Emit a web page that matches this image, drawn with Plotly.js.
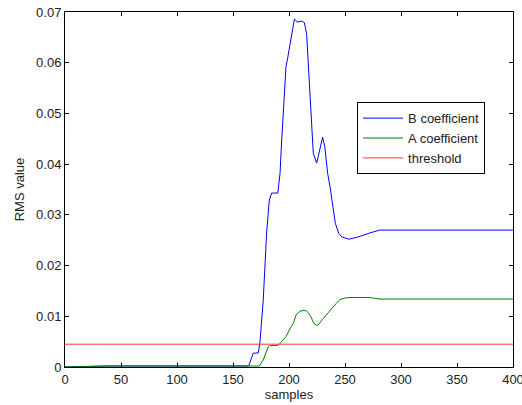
<!DOCTYPE html>
<html>
<head>
<meta charset="utf-8">
<script src="https://cdn.plot.ly/plotly-3.0.1.min.js"></script>
<style>html,body{margin:0;padding:0;background:#fff;}#chart{width:522px;height:405px;}</style>
</head>
<body>
<div id="chart"></div>
<script>
// B coefficient (blue)
const bX = [0, 38, 164, 166.6, 168, 172.6, 174, 177, 180, 182.4, 184.5, 190, 192, 193.5, 195, 196.4, 197.3, 198.5, 200.5, 202.4, 204.8, 206, 207.4, 211.3, 213.7, 215.7, 218.2, 220.2, 221.7, 224.7, 227.7, 230, 232, 234.5, 236.6, 238.3, 241.4, 244.5, 247.5, 253.6, 261, 271.8, 280.9, 400];
const bY = [0, 0.0002, 0.0002, 0.0020, 0.0027, 0.0028, 0.0047, 0.0132, 0.0264, 0.0329, 0.0343, 0.0343, 0.0382, 0.0448, 0.0507, 0.0566, 0.0592, 0.0605, 0.0630, 0.0661, 0.0686, 0.0684, 0.0680, 0.0682, 0.0679, 0.0658, 0.0559, 0.0461, 0.0421, 0.0402, 0.0428, 0.0453, 0.0434, 0.0382, 0.0356, 0.0329, 0.0283, 0.0263, 0.0256, 0.0252, 0.0256, 0.0264, 0.0270, 0.0270];
// A coefficient (green)
const aX = [0, 38, 173.5, 177, 181.5, 183, 190.5, 195, 197.3, 201.8, 203.9, 206.4, 210, 213.4, 216, 218.6, 222.5, 224.7, 226.1, 230.7, 236.6, 238.4, 242, 245.5, 250, 254.5, 271.8, 280.9, 400];
const aY = [0, 0.0002, 0.0002, 0.0014, 0.0040, 0.0042, 0.0043, 0.0053, 0.0060, 0.0079, 0.0086, 0.0103, 0.0110, 0.0112, 0.0110, 0.0103, 0.0085, 0.0082, 0.0083, 0.0096, 0.0112, 0.0116, 0.0125, 0.0133, 0.0136, 0.0137, 0.0137, 0.0134, 0.0134];
// threshold (red)
const tX = [0, 400];
const tY = [0.0045, 0.0045];
const seriesNames = ['B coefficient', 'A coefficient', 'threshold'];
const xTicks = [0, 50, 100, 150, 200, 250, 300, 350, 400];
const xTickText = ['0', '50', '100', '150', '200', '250', '300', '350', '400'];
const yTicks = [0, 0.01, 0.02, 0.03, 0.04, 0.05, 0.06, 0.07];
const yTickText = ['0', '0.01', '0.02', '0.03', '0.04', '0.05', '0.06', '0.07'];

const font = {family: 'Liberation Sans, Arial, sans-serif', size: 13, color: '#222'};
const traces = [
  {x: bX, y: bY, name: seriesNames[0], mode: 'lines', line: {color: '#0000ff', width: 1}},
  {x: aX, y: aY, name: seriesNames[1], mode: 'lines', line: {color: '#008000', width: 1}},
  {x: tX, y: tY, name: seriesNames[2], mode: 'lines', line: {color: '#ff3333', width: 1}}
];
const axisCommon = {showgrid: false, zeroline: false, showline: true, linecolor: '#000', linewidth: 1,
  mirror: 'ticks', ticks: 'inside', ticklen: 4, tickcolor: '#000', tickfont: font, ticklabeloverflow: 'allow'};
const layout = {
  width: 522, height: 405,
  margin: {l: 65, r: 9, t: 12, b: 38},
  paper_bgcolor: '#fff', plot_bgcolor: '#fff',
  font: font,
  showlegend: true,
  legend: {x: 0.652, y: 0.746, xanchor: 'left', yanchor: 'top', bordercolor: '#000', borderwidth: 1,
    bgcolor: '#fff', font: font, tracegroupgap: 0, itemwidth: 40},
  xaxis: Object.assign({}, axisCommon, {range: [0, 400], tickmode: 'array', tickvals: xTicks, ticktext: xTickText,
    title: {text: 'samples', font: font, standoff: 2}}),
  yaxis: Object.assign({}, axisCommon, {range: [0, 0.07], tickmode: 'array', tickvals: yTicks, ticktext: yTickText,
    title: {text: 'RMS value', font: font, standoff: 8}})
};
Plotly.newPlot('chart', traces, layout, {displayModeBar: false, staticPlot: true});
</script>
</body>
</html>
